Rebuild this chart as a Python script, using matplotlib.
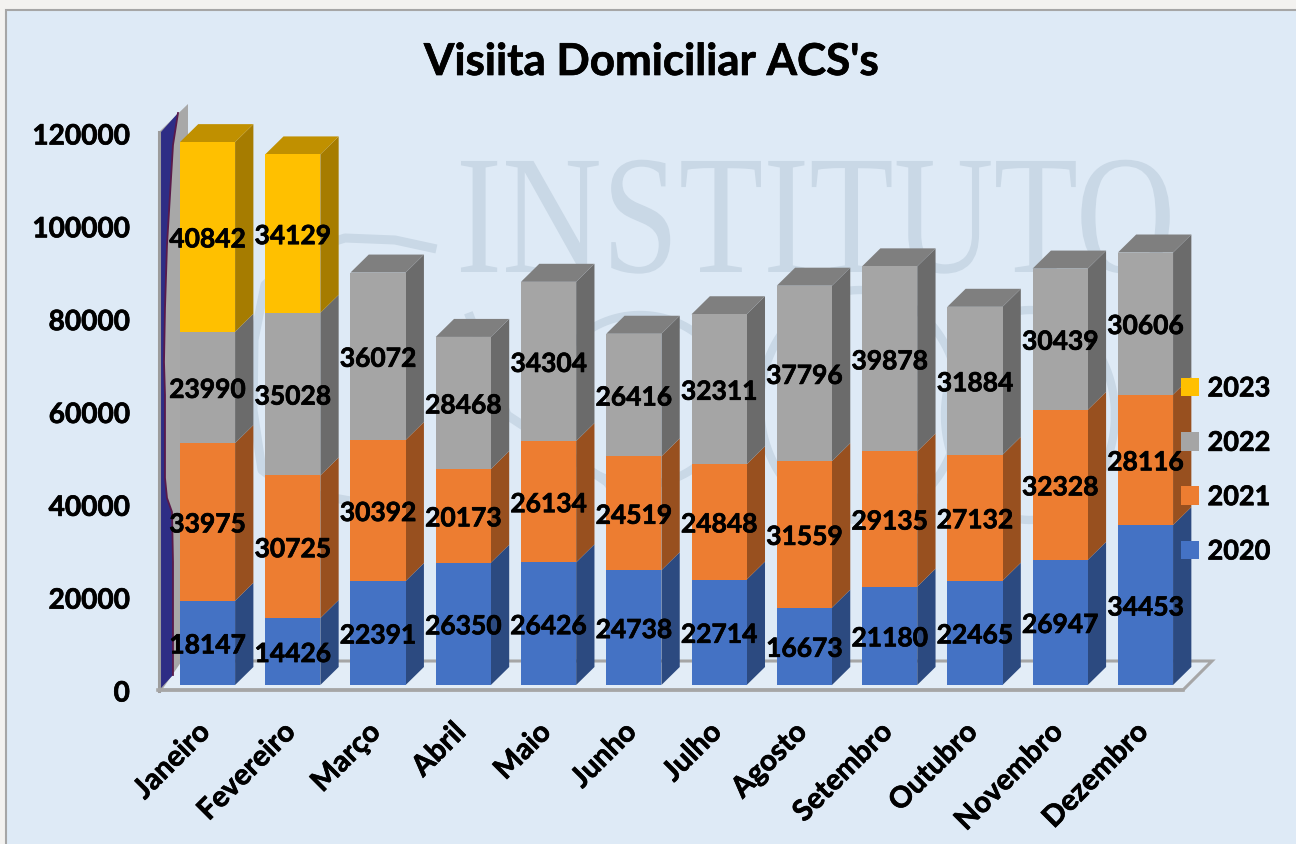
import numpy as np
import matplotlib
matplotlib.use('Agg')
import matplotlib.pyplot as plt
import matplotlib.patheffects as pe
from matplotlib.patches import Patch, Polygon, Rectangle
from matplotlib.transforms import Affine2D

plt.rcParams['font.family'] = ['Lato', 'DejaVu Sans']
plt.rcParams['font.weight'] = 'bold'

# Dados
meses = ['Janeiro', 'Fevereiro', 'Março', 'Abril', 'Maio', 'Junho', 'Julho',
         'Agosto', 'Setembro', 'Outubro', 'Novembro', 'Dezembro']
v2020 = [18147, 14426, 22391, 26350, 26426, 24738, 22714, 16673, 21180, 22465, 26947, 34453]
v2021 = [33975, 30725, 30392, 20173, 26134, 24519, 24848, 31559, 29135, 27132, 32328, 28116]
v2022 = [23990, 35028, 36072, 28468, 34304, 26416, 32311, 37796, 39878, 31884, 30439, 30606]
v2023 = [40842, 34129, 0, 0, 0, 0, 0, 0, 0, 0, 0, 0]
anos = ['2020', '2021', '2022', '2023']
yticks = [0, 20000, 40000, 60000, 80000, 100000, 120000]

frente = ['#4472c4', '#ed7d31', '#a5a5a5', '#ffc000']
lateral = ['#2c4a80', '#98501f', '#6b6b6b', '#a67c00']
topo = ['#2c4a80', '#98501f', '#7f7f7f', '#c09000']

W, H = 1296, 844
fig = plt.figure(figsize=(W / 100, H / 100), dpi=100, facecolor='#f3f2f0')
# pixels da imagem (origem em cima) para o fundo e a marca d'água
pix = Affine2D().scale(1, -1).translate(0, H)

fig.add_artist(Rectangle((6, 10), W, H, transform=pix, fc='#deeaf6', ec='#a6a6a6', lw=1.5, zorder=-1))

ax_l, ax_r, ax_t, ax_b = 159, 1185, 134, 691
ax = fig.add_axes([ax_l / W, 1 - ax_b / H, (ax_r - ax_l) / W, (ax_b - ax_t) / H])
ax.patch.set_visible(False)
for s in ax.spines.values():
    s.set_visible(False)

passo = 85.27
px_y = (ax_b - ax_t) / 120000
ax.set_xlim((ax_l - 207.5) / passo, (ax_r - 207.5) / passo)
ax.set_ylim(0, 120000)

largura = 0.647
dx = 18.3 / passo
dy = 18 / px_y
base = 6 / px_y  # barras ficam um pouco atrás da borda do piso

# Lato é mais fina que a fonte original, um traço fino compensa
negrito = [pe.withStroke(linewidth=0.5, foreground='black')]

# Marca d'água
class Condensar(pe.AbstractPathEffect):
    def __init__(self, x0, y0, fx, fy):
        super().__init__()
        self.x0, self.y0, self.fx, self.fy = x0, y0, fx, fy

    def draw_path(self, renderer, gc, tpath, affine, rgbFace=None):
        t = affine + (Affine2D().translate(-self.x0, -self.y0).scale(self.fx, self.fy)
                      .translate(self.x0, self.y0))
        renderer.draw_path(gc, tpath, t, rgbFace)

marca = '#c9d8e6'
ax.text(456, 272, 'INSTITUTO', transform=pix, family='Liberation Serif', weight='normal',
        fontsize=110, color=marca, va='baseline', ha='left', clip_on=False, zorder=1,
        path_effects=[Condensar(456, H - 272, 0.905, 1.11)])
fita = [(432, 248), (395, 240), (345, 238), (300, 252), (265, 285), (254, 340), (253, 410),
        (262, 470), (290, 490), (345, 500)]
xs, ys = zip(*fita)
ax.plot(xs, ys, transform=pix, color=marca, lw=6.5, clip_on=False, zorder=1)
fita = [(470, 317), (507, 415), (560, 450), (607, 482), (650, 540)]
xs, ys = zip(*fita)
ax.plot(xs, ys, transform=pix, color=marca, lw=6.5, clip_on=False, zorder=1)
t = np.linspace(0, 2 * np.pi, 120)
for cx, cy, rx, ry in [(860, 405, 100, 115), (1030, 415, 85, 105), (640, 400, 90, 85)]:
    ax.plot(cx + rx * np.cos(t), cy + ry * np.sin(t), transform=pix, color=marca, lw=6,
            clip_on=False, zorder=1)

# Parede esquerda e piso
ax.add_patch(Polygon([(159, 690), (188, 661), (188, 104), (159, 132)], transform=pix,
                     fc='#a8a8a8', ec='none', clip_on=False, zorder=2))
ax.add_patch(Polygon([(160, 690), (1183, 690), (1212, 661), (180, 661)], transform=pix,
                     fc='#e3edf7', ec='#a6a6a6', lw=2.2, clip_on=False, zorder=2))
borda = [(178, 113), (173, 145), (170, 195), (167, 245), (165, 308), (164, 362), (165, 395),
         (165, 428), (165, 478), (167, 498), (172, 512), (173, 562), (173, 662), (173, 675)]
ax.add_patch(Polygon([(161, 132)] + borda + [(161, 688)], transform=pix, fc='#2e2d85', ec='none',
                     clip_on=False, zorder=3))
xs, ys = zip(*borda)
ax.plot(xs, ys, transform=pix, color='#5a1a4a', lw=1.3, clip_on=False, zorder=3)
ax.plot([159, 159], [132, 691], transform=pix, color='#9c9c9c', lw=2.2, clip_on=False, zorder=4)
ax.plot([158, 1183], [690, 690], transform=pix, color='#a6a6a6', lw=2.6, clip_on=False, zorder=4)

# Barras empilhadas
x = np.arange(len(meses))
series = [v2020, v2021, v2022, v2023]
acum = np.full(len(meses), base)
for k, vals in enumerate(series):
    vals = np.array(vals)
    ax.bar(x, vals, largura, bottom=acum, color=frente[k], zorder=6, clip_on=False)
    for i, v in enumerate(vals):
        if v == 0:
            continue
        y0, y1 = acum[i], acum[i] + v
        xd = x[i] + largura / 2
        ax.fill([xd, xd + dx, xd + dx, xd], [y0, y0 + dy, y1 + dy, y1], color=lateral[k],
                lw=0, zorder=5, clip_on=False)
        # tampa só no último segmento da pilha
        if k == len(series) - 1 or series[k + 1][i] == 0:
            xe = x[i] - largura / 2
            ax.fill([xe, xd, xd + dx, xe + dx], [y1, y1, y1 + dy, y1 + dy], color=topo[k],
                    lw=0, zorder=5, clip_on=False)
        ax.text(x[i], (y0 + y1) / 2 - 2.5 / px_y, str(v), ha='center', va='center', fontsize=19,
                color='black', zorder=8, clip_on=False, path_effects=negrito)
    acum = acum + vals

# Eixos
ax.set_xticks(x)
ax.set_xticklabels(meses, rotation=45, ha='right', rotation_mode='anchor', fontsize=21,
                   path_effects=negrito)
ax.set_yticks(yticks)
ax.set_yticklabels([str(v) for v in yticks], fontsize=20.2, path_effects=negrito)
ax.tick_params(axis='x', length=0, pad=20)
ax.tick_params(axis='y', length=0, pad=21)
for lab in ax.get_xticklabels():
    lab.set_transform(lab.get_transform() + Affine2D().translate(-11, 0))

titulo = fig.text(651 / W, 1 - 62 / H, "Visiita Domiciliar ACS's", ha='center', va='center',
                  fontsize=31.6, color='black', path_effects=negrito)

# Legenda em ordem invertida
handles = [Patch(fc=frente[k], ec='none', label=anos[k]) for k in range(3, -1, -1)]
leg = ax.legend(handles=handles, loc='center left', bbox_to_anchor=(1181, 470), bbox_transform=pix,
                frameon=False, fontsize=19.5, handlelength=0.68, handleheight=0.68,
                handletextpad=0.3, labelspacing=1.12, borderpad=0, borderaxespad=0)
leg.set_zorder(9)
for txt in leg.get_texts():
    txt.set_path_effects(negrito)

fig.savefig('out.png', dpi=100, facecolor=fig.get_facecolor())
